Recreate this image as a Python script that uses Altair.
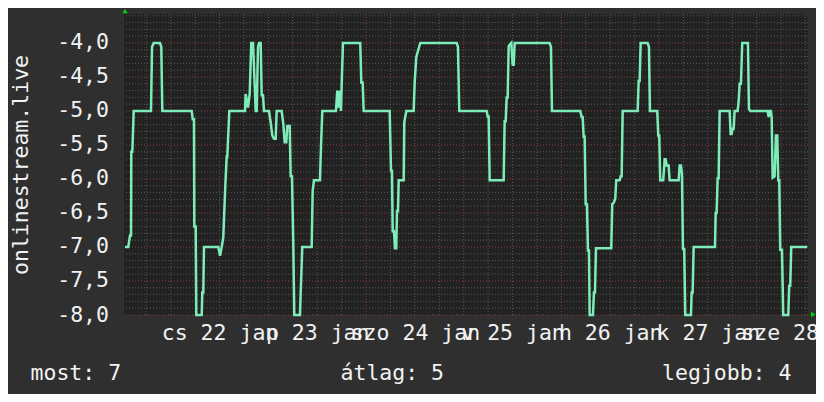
import altair as alt
import pandas as pd

# ---- data (hours since 22 Jan 00:00, value) ----
hours = [
    -11.23, -10.42, -10.0, -9.75, -9.68, -9.43, -9.09, -4.84, -4.59, -4.18, -2.63, -2.31, -2.06,
    5.16, 5.41, 5.72, 5.80, 6.14, 6.29, 7.62, 7.76, 8.01, 8.18, 11.70, 12.11, 12.53, 12.92, 13.42,
    13.76, 13.91, 14.40,
    18.26, 18.43, 18.99, 19.41, 19.80, 20.22, 20.47, 20.88, 21.13, 21.45, 21.70, 22.11, 22.36, 22.68,
    22.92, 24.15, 24.57, 24.96, 25.38, 25.80, 26.04, 27.27, 27.67, 28.01, 28.40, 28.65, 29.24, 29.48,
    29.80, 30.12, 30.37, 31.77, 31.94, 32.33, 34.64, 34.89, 35.21, 36.68, 36.93, 37.25, 40.61, 40.93,
    41.18, 41.60, 41.84, 42.09, 42.33,
    46.58, 46.83, 47.17, 47.42, 53.81, 54.13, 54.37, 54.55, 54.86, 55.11, 55.43, 55.60, 55.85, 56.02,
    57.25, 57.40, 57.89, 59.70, 59.95, 60.34, 60.84, 61.33, 70.27, 70.59, 70.91,
    77.64, 77.89, 78.13, 78.38, 81.82, 82.06, 82.31, 82.56, 82.80, 83.05, 83.37, 83.69, 84.03, 84.28,
    84.52, 93.12, 93.44, 93.69,
    100.64, 100.98, 101.23, 101.47, 101.72, 101.97, 102.29, 102.53, 102.78, 102.95, 103.76, 104.0,
    104.25, 104.50, 108.26, 108.50, 108.85, 109.24, 109.48, 110.32, 110.57, 110.81, 111.06, 114.74,
    114.99, 115.23, 115.48, 117.20, 117.52, 117.76, 119.56, 119.80, 120.05, 120.29, 121.03, 121.38,
    121.62, 121.87, 122.36, 122.60, 124.82, 125.06, 125.38, 125.63, 125.87, 126.19, 126.44, 127.84,
    128.01, 128.26, 128.50, 133.74, 133.91, 134.15, 134.40, 134.64, 134.89, 137.35, 137.59, 137.84,
    138.08, 138.33, 138.57, 139.31, 139.56, 139.80, 140.12, 140.44, 141.84, 142.09, 142.41, 146.68,
    146.93, 147.17, 147.49, 147.67, 147.91, 148.40, 148.72, 149.05, 149.29, 149.54, 149.78, 150.20,
    150.52, 151.75, 151.99, 152.24, 152.48, 156.41,
]
values = [
    -7.0, -7.0, -6.83, -6.83, -5.6, -5.6, -5.0, -5.0, -4.06, -4.0, -4.0, -4.06, -5.0,
    -5.0, -5.12, -5.12, -6.7, -6.7, -8.0, -8.0, -7.67, -7.67, -7.0, -7.0, -7.13, -7.0, -6.86, -6.1,
    -5.67, -5.67, -5.0,
    -5.0, -4.75, -4.95, -4.75, -4.0, -4.0, -4.36, -5.0, -5.0, -4.06, -4.0, -4.0, -4.77, -4.77,
    -5.0, -5.0, -5.17, -5.36, -5.41, -5.41, -5.0, -5.0, -5.19, -5.46, -5.46, -5.22, -5.22, -5.96,
    -5.96, -6.94, -8.0, -8.0, -7.67, -7.0, -7.0, -6.17, -6.02, -6.02, -5.53, -5.0, -5.0, -4.70,
    -4.95, -4.70, -5.0, -4.46, -4.0,
    -4.0, -4.58, -4.58, -5.0, -5.0, -5.88, -5.88, -6.77, -6.77, -7.02, -7.02, -6.47, -6.47, -6.02,
    -6.02, -5.17, -5.0, -5.0, -4.58, -4.21, -4.10, -4.0, -4.0, -4.06, -5.0,
    -5.0, -5.08, -5.08, -6.02, -6.02, -5.15, -5.15, -4.80, -4.80, -4.05, -4.02, -4.0, -4.32, -4.32,
    -4.0, -4.0, -4.06, -5.0,
    -5.0, -5.09, -5.09, -5.38, -5.38, -6.37, -6.37, -7.05, -7.05, -8.0, -8.0, -7.67,
    -7.67, -7.02, -7.02, -6.37, -6.35, -6.29, -6.02, -6.02, -5.96, -5.96, -5.0, -5.0,
    -4.56, -4.56, -4.0, -4.0, -4.06, -5.0, -5.0, -5.36, -5.36, -6.02, -6.02, -5.71,
    -5.71, -5.80, -5.80, -6.02, -6.02, -5.80, -5.80, -5.93, -7.03, -7.03, -8.0, -8.0,
    -7.67, -7.67, -7.0, -7.0, -6.5, -6.5, -5.99, -5.99, -5.0, -5.0, -5.34, -5.34,
    -5.26, -5.26, -5.0, -5.0, -4.86, -4.60, -4.60, -4.0, -4.0, -4.97, -5.0, -5.0,
    -5.09, -5.0, -5.0, -5.09, -5.98, -5.96, -5.36, -5.36, -6.02, -6.02, -7.04, -7.04,
    -8.0, -8.0, -7.57, -7.57, -7.0, -7.0,
]

day_label_hours = [12, 36, 60, 84, 108, 132, 156]
day_labels = ["cs 22 jan", "p 23 jan", "szo 24 jan", "v 25 jan", "h 26 jan", "k 27 jan", "sze 28 jan"]
y_tick_values = [-8.0, -7.5, -7.0, -6.5, -6.0, -5.5, -5.0, -4.5, -4.0]
y_title = "onlinestream.live"
legend_names = ["most", "átlag", "legjobb"]
legend_values = [7, 5, 4]

X_DOMAIN = [-11.475, 156.6]
Y_DOMAIN = [-8.0, -3.574]

minor_x = [h for h in range(-6, 157, 6) if h % 24 != 0]
major_x = list(range(0, 157, 24))
minor_y = [round(-8 + 0.1 * i, 1) for i in range(1, 45) if i % 5 != 0]
major_y = [round(-8 + 0.5 * i, 1) for i in range(0, 9)]

FONT = "DejaVu Sans Mono"
FS = 21.5
TXT = "#f2f2f2"
LINE = "#7eecb9"
MINOR = "#575757"
MAJOR = "#8a4040"

df = pd.DataFrame({"h": hours, "v": values})

xscale = alt.Scale(domain=X_DOMAIN, nice=False, zero=False)
yscale = alt.Scale(domain=Y_DOMAIN, nice=False, zero=False)

x_label_expr = (
    "[" + ",".join(repr(s) for s in day_labels) + "][indexof(["
    + ",".join(str(h) for h in day_label_hours) + "], datum.value)]"
)
y_label_expr = "(datum.value < 0 ? '-' : '') + replace(format(abs(datum.value), '.1f'), '.', ',')"

x_axis = alt.Axis(
    values=day_label_hours, labelExpr=x_label_expr, title=None, grid=False,
    ticks=False, tickSize=0, domain=False, labelOverlap=False, labelFlush=False,
    labelBound=False, labelFont=FONT, labelFontSize=FS, labelColor=TXT,
    labelPadding=24, labelBaseline="alphabetic", labelAlign="center",
)
y_axis = alt.Axis(
    values=y_tick_values, labelExpr=y_label_expr, title=y_title, grid=False,
    ticks=False, tickSize=0, domain=False, labelOverlap=False, labelFlush=False,
    labelBound=False, labelFont=FONT, labelFontSize=FS, labelColor=TXT,
    labelPadding=15.5, labelAlign="right", labelBaseline="middle",
    titleFont=FONT, titleFontSize=FS, titleColor=TXT, titleFontWeight="normal",
    titleAngle=270, titleAlign="center", titleBaseline="alphabetic",
    titleX=-97, titleY=150.5,
)

grid_minor_h = alt.Chart(pd.DataFrame({"v": minor_y})).mark_rule(
    color=MINOR, strokeWidth=1, strokeDash=[1, 2]
).encode(y=alt.Y("v:Q", scale=yscale, axis=y_axis))
grid_minor_v = alt.Chart(pd.DataFrame({"h": minor_x})).mark_rule(
    color=MINOR, strokeWidth=1, strokeDash=[1, 2]
).encode(x=alt.X("h:Q", scale=xscale, axis=x_axis))
grid_major_h = alt.Chart(pd.DataFrame({"v": major_y})).mark_rule(
    color=MAJOR, strokeWidth=1, strokeDash=[1, 2]
).encode(y=alt.Y("v:Q", scale=yscale, axis=y_axis))
grid_major_v = alt.Chart(pd.DataFrame({"h": major_x})).mark_rule(
    color=MAJOR, strokeWidth=1, strokeDash=[1, 2]
).encode(x=alt.X("h:Q", scale=xscale, axis=x_axis))

line = alt.Chart(df).mark_line(color=LINE, strokeWidth=2.5, interpolate="linear").encode(
    x=alt.X("h:Q", scale=xscale, axis=x_axis),
    y=alt.Y("v:Q", scale=yscale, axis=y_axis),
)

arrow_up = alt.Chart(pd.DataFrame({"a": [0]})).mark_point(
    shape="triangle-up", filled=True, color="#00d000", size=28, opacity=1
).encode(x=alt.value(1), y=alt.value(-3))
arrow_right = alt.Chart(pd.DataFrame({"a": [0]})).mark_point(
    shape="triangle-right", filled=True, color="#00d000", size=28, opacity=1
).encode(x=alt.value(689.3), y=alt.value(300.5))

legend_x = [-93.5, 216.5, 538]
legend_layers = []
for name, val, lx in zip(legend_names, legend_values, legend_x):
    legend_layers.append(
        alt.Chart(pd.DataFrame({"t": [f"{name}: {val}"]})).mark_text(
            font=FONT, fontSize=FS, color=TXT, align="left", baseline="alphabetic"
        ).encode(text="t:N", x=alt.value(lx), y=alt.value(366))
    )

chart = alt.layer(
    grid_minor_h, grid_minor_v, grid_major_h, grid_major_v, line, arrow_up, arrow_right,
    *legend_layers,
).properties(
    width=684, height=301,
    autosize=alt.AutoSizeParams(type="none"),
    padding={"left": 116, "top": 6, "right": 8, "bottom": 79},
    background="#2f2f2f",
).configure_view(fill="#222222", stroke=None)

chart.save("out.html", embed_options={"renderer": "svg", "actions": False})
